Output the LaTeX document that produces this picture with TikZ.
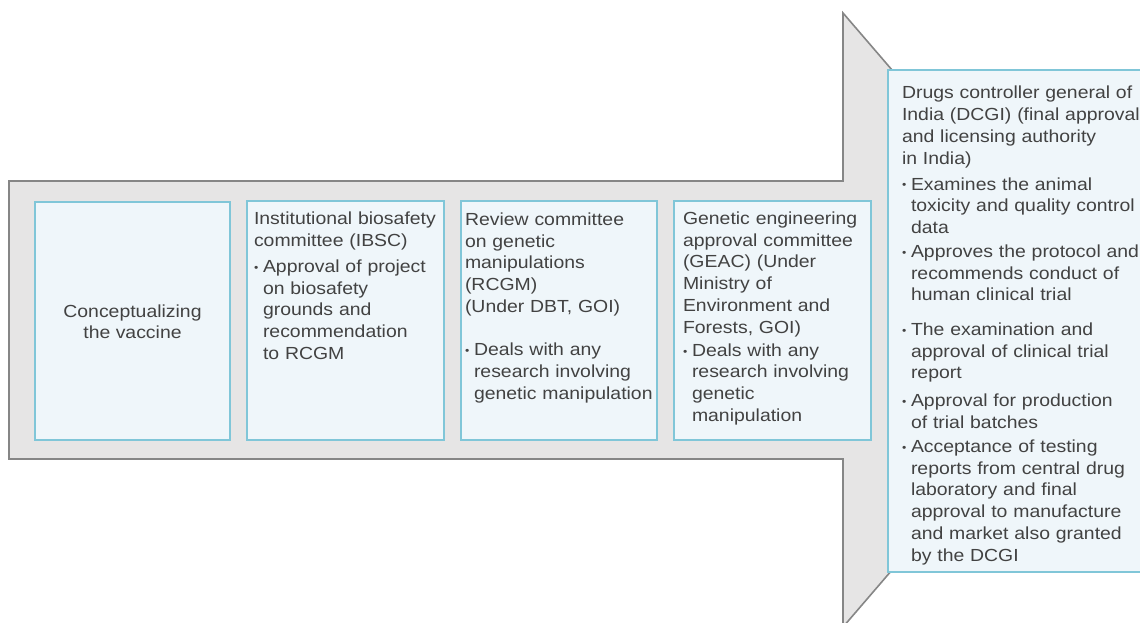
\documentclass[tikz,border=0pt]{standalone}
\usepackage{fontspec}
\setmainfont{Liberation Sans}[FakeStretch=1.11]

\definecolor{arrowfill}{HTML}{E6E5E5}
\definecolor{arrowedge}{HTML}{868686}
\definecolor{boxfill}{HTML}{EFF6FA}
\definecolor{boxedge}{HTML}{80C6D8}
\definecolor{inkgray}{HTML}{424242}

% hanging bullet lines
\newlength\bulind
\setlength\bulind{9pt}
\newcommand\bulmark{\raisebox{1.2pt}{\fontsize{11}{11}\selectfont •}}
\newcommand\bitem{\makebox[\bulind][l]{\bulmark}}
\newcommand\bcont{\hspace*{\bulind}}
\newcommand\firststrut{\rule{0pt}{14pt}}

\begin{document}
\begin{tikzpicture}[x=1pt,y=-1pt,
  every node/.style={inner sep=0pt,outer sep=0pt},
  stage/.style={draw=boxedge,fill=boxfill,line width=1.6pt,anchor=north west},
  stagetext/.style={text=inkgray,font=\fontsize{17.5}{21.7}\selectfont,
    align=left,anchor=north west,text width=#1},
  stagetext/.default=200pt,
  bigarrow/.style={draw=arrowedge,fill=arrowfill,line width=1.6pt,line join=miter}]

\useasboundingbox (0,0) rectangle (1140,623);
\clip (0,0) rectangle (1140,623);

% the broad arrow carrying the stages
\draw[bigarrow] (9,181) -- (843,181) -- (843,13) -- (1107,320)
  -- (843,627) -- (843,459) -- (9,459) -- cycle;

% stage boxes
\node[stage,minimum width=195pt,minimum height=238pt] (concept) at (35,202) {};
\node[stage,minimum width=197pt,minimum height=239pt] (ibsc) at (247,201) {};
\node[stage,minimum width=196pt,minimum height=239pt] (rcgm) at (461,201) {};
\node[stage,minimum width=197pt,minimum height=239pt] (geac) at (674,201) {};
\node[stage,minimum width=260pt,minimum height=502pt] (dcgi) at (888,70) {};

% stage texts
\node[text=inkgray,font=\fontsize{17.5}{21}\selectfont,align=center]
  (concept-text) at (132.5,322) {Conceptualizing\\the vaccine};

\node[stagetext] (ibsc-text) at (254,210.5) {\firststrut Institutional biosafety\\
committee (IBSC)\\[4.6pt]
\bitem Approval of project\\
\bcont on biosafety\\
\bcont grounds and\\
\bcont recommendation\\
\bcont to RCGM};

\node[stagetext] (rcgm-text) at (465,211.5) {\firststrut Review committee\\
on genetic\\
manipulations\\
(RCGM)\\
(Under DBT, GOI)\\[21.7pt]
\bitem Deals with any\\
\bcont research involving\\
\bcont genetic manipulation};

\node[stagetext] (geac-text) at (683,210.5) {\firststrut Genetic engineering\\
approval committee\\
(GEAC) (Under\\
Ministry of\\
Environment and\\
Forests, GOI)\\[1.5pt]
\bitem Deals with any\\
\bcont research involving\\
\bcont genetic\\
\bcont manipulation};

\node[stagetext=245pt] (dcgi-text) at (902,85) {\firststrut Drugs controller general of\\
India (DCGI) (final approval\\
and licensing authority\\
in India)\\[4.3pt]
\bitem Examines the animal\\
\bcont toxicity and quality control\\
\bcont data\\[2.3pt]
\bitem Approves the protocol and\\
\bcont recommends conduct of\\
\bcont human clinical trial\\[13pt]
\bitem The examination and\\
\bcont approval of clinical trial\\
\bcont report\\[6pt]
\bitem Approval for production\\
\bcont of trial batches\\[2.5pt]
\bitem Acceptance of testing\\
\bcont reports from central drug\\
\bcont laboratory and final\\
\bcont approval to manufacture\\
\bcont and market also granted\\
\bcont by the DCGI};

\end{tikzpicture}
\end{document}
